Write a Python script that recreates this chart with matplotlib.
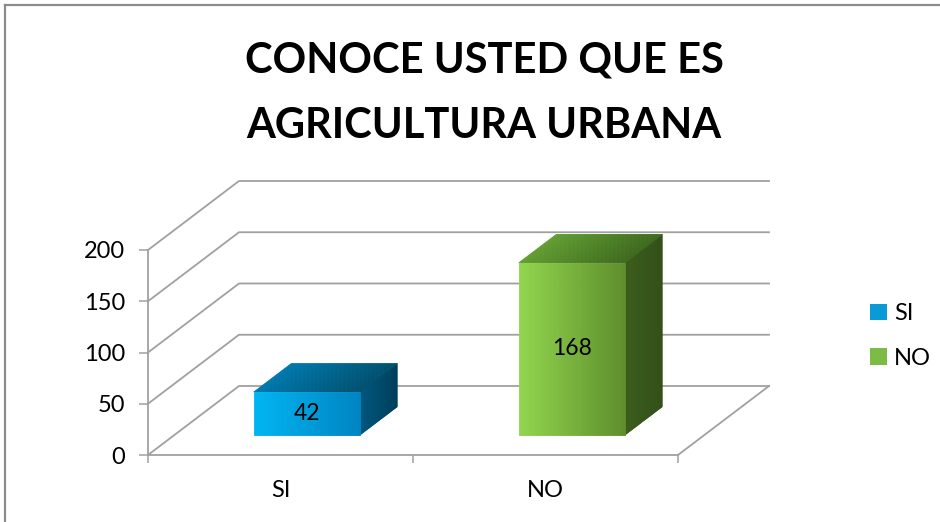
import matplotlib.pyplot as plt
import numpy as np
from matplotlib.collections import PolyCollection
from matplotlib.patches import Patch
from matplotlib.lines import Line2D

plt.rcParams['font.family'] = ['Lato', 'DejaVu Sans']

# Data
categories = ['SI', 'NO']
values = [42, 168]
yticks = [0, 50, 100, 150, 200]
title_lines = ['CONOCE USTED QUE ES', 'AGRICULTURA URBANA']

# face colours (left/front -> right/back) per series
front_cols = [('#00B6F2', '#0084C2'), ('#92D64E', '#5E8E2C')]
top_cols = [('#0079AE', '#00506F'), ('#629E32', '#3E6A1E')]
side_cols = [('#00587F', '#003F5C'), ('#3C5E1C', '#33501A')]
legend_cols = ['#0A9AD6', '#7DBC44']

grid_col = '#A0A0A0'
depth_px = (91, 69)          # apparent depth of the 3D box in pixels
bar_depth = (0.29, 0.70)     # bar position inside the depth
bar_width = 0.40


def shade_face(ax, p00, p10, p11, p01, c0, c1, n=40, z=3):
    p00, p10, p11, p01 = map(np.asarray, (p00, p10, p11, p01))
    c0 = np.array(plt.matplotlib.colors.to_rgb(c0))
    c1 = np.array(plt.matplotlib.colors.to_rgb(c1))
    quads, cols = [], []
    for k in range(n):
        t0, t1 = k / n, (k + 1) / n
        quads.append([p00 + (p10 - p00) * t0, p00 + (p10 - p00) * t1,
                      p01 + (p11 - p01) * t1, p01 + (p11 - p01) * t0])
        cols.append(c0 + (c1 - c0) * (t0 + t1) / 2)
    pc = PolyCollection(quads, facecolors=cols, edgecolors=cols,
                        linewidths=0.6, zorder=z, clip_on=False)
    ax.add_collection(pc)


fig = plt.figure(figsize=(9.4, 5.22), dpi=100)
ax = fig.add_axes([148 / 940, (522 - 455) / 522, 530 / 940, 205 / 522])
ax.set_xlim(-0.5, len(categories) - 0.5)
ax.set_ylim(yticks[0], yticks[-1])

# convert pixel depth into data units
p0 = ax.transData.transform((0, 0))
p1 = ax.transData.transform((1, 1))
DX = depth_px[0] / (p1[0] - p0[0])
DY = depth_px[1] / (p1[1] - p0[1])

x_lo, x_hi = ax.get_xlim()

# back wall gridlines and side wall lines
for v in yticks:
    ax.plot([x_lo, x_lo + DX, x_hi + DX], [v, v + DY, v + DY],
            color=grid_col, lw=1.3, clip_on=False, zorder=1)
# right edge of floor
ax.plot([x_hi, x_hi + DX], [0, DY], color=grid_col, lw=1.3,
        clip_on=False, zorder=1)

# bars
d0, d1 = bar_depth
for i, v in enumerate(values):
    cx = i + d0 * DX
    xl, xr = cx - bar_width / 2, cx + bar_width / 2
    yb, yt = d0 * DY, d0 * DY + v
    ddx, ddy = (d1 - d0) * DX, (d1 - d0) * DY
    shade_face(ax, (xr, yb), (xr + ddx, yb + ddy), (xr + ddx, yt + ddy), (xr, yt),
               *side_cols[i])
    shade_face(ax, (xl, yt), (xr, yt), (xr + ddx, yt + ddy), (xl + ddx, yt + ddy),
               *top_cols[i])
    shade_face(ax, (xl, yb), (xr, yb), (xr, yt), (xl, yt), *front_cols[i], z=4)
    ax.text(cx, (yb + yt) / 2, str(v), ha='center', va='center',
            fontsize=16.5, color='black', zorder=5)

# axes styling
for s in ['top', 'right']:
    ax.spines[s].set_visible(False)
for s in ['left', 'bottom']:
    ax.spines[s].set_color(grid_col)
    ax.spines[s].set_linewidth(1.3)
ax.set_yticks(yticks)
ax.tick_params(axis='y', direction='out', length=6.5, width=1.1,
               color=grid_col, labelsize=17, pad=10)
ax.set_xticks(np.arange(len(categories) + 1) - 0.5)
ax.set_xticklabels([])
ax.tick_params(axis='x', which='major', direction='out', length=6,
               width=1.1, color=grid_col)
ax.set_xticks(np.arange(len(categories)), minor=True)
ax.set_xticklabels(categories, minor=True)
ax.tick_params(axis='x', which='minor', length=0, labelsize=17, pad=18)
ax.patch.set_alpha(0)

# title
fig.text(484 / 940, 1 - 72 / 522, title_lines[0], ha='center', va='baseline',
         fontsize=30, fontweight='bold')
fig.text(484 / 940, 1 - 138 / 522, title_lines[1], ha='center', va='baseline',
         fontsize=30, fontweight='bold')

# legend
handles = [Patch(facecolor=c, edgecolor='none') for c in legend_cols]
fig.legend(handles, categories, loc='center left',
           bbox_to_anchor=(849 / 940, 1 - 336 / 522), frameon=False,
           fontsize=17, handlelength=0.72, handleheight=0.72,
           handletextpad=0.3, labelspacing=1.0)

# outer chart border (top and left visible)
fig.add_artist(Line2D([5 / 940, 1], [1 - 5 / 522, 1 - 5 / 522],
                      transform=fig.transFigure, color='#8C8C8C', lw=1.6))
fig.add_artist(Line2D([5 / 940, 5 / 940], [0, 1 - 5 / 522],
                      transform=fig.transFigure, color='#8C8C8C', lw=1.6))

fig.savefig('out.png', dpi=100)
